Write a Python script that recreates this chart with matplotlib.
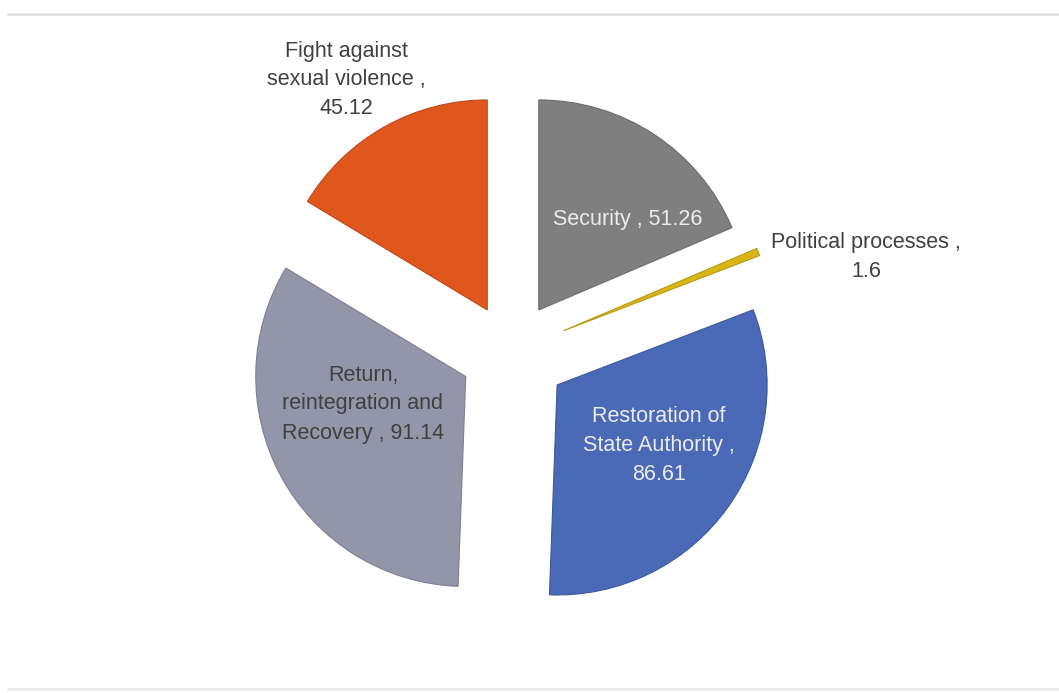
import numpy as np
import matplotlib.pyplot as plt
from matplotlib.lines import Line2D

plt.rcParams['font.family'] = ['Liberation Sans', 'DejaVu Sans']

# Budget by area
labels = ['Security', 'Political processes', 'Restoration of\nState Authority',
          'Return,\nreintegration and\nRecovery', 'Fight against\nsexual violence']
values = [51.26, 1.6, 86.61, 91.14, 45.12]
colors = ['#7f7f7f', '#d9b616', '#4a69b6', '#9396a9', '#df571d']
explode = [0.24, 0.27, 0.27, 0.245, 0.23]

W, H = 1059, 693
R = 210.0  # pie radius in pixels
cx, cy = 511, 352  # pie centre in pixels (from top-left)

fig = plt.figure(figsize=(W / 100, H / 100), dpi=100)
ax = fig.add_axes([0, 0, 1, 1])

wedges, _ = ax.pie(values, colors=colors, explode=explode, startangle=90,
                   counterclock=False, radius=1.0, center=(0, 0),
                   wedgeprops=dict(linewidth=0.8))
for w, c in zip(wedges, colors):
    r, g, b = plt.matplotlib.colors.to_rgb(c)
    w.set_edgecolor((r * 0.85, g * 0.85, b * 0.85))

# pie() resets the limits, so set them afterwards
ax.set_xlim(-cx / R, (W - cx) / R)
ax.set_ylim(-(H - cy) / R, cy / R)
ax.set_aspect('equal')
ax.axis('off')


def px(x, y):
    return (x - cx) / R, (cy - y) / R


txt = dict(fontsize=15.5, ha='center', va='center', linespacing=1.5)
dark = '#404040'
light = '#ececec'

ax.text(*px(628, 220), f'{labels[0]} , {values[0]}', color=light, **txt)
ax.text(*px(866, 257), f'{labels[1]} ,\n{values[1]}', color=dark, **txt)
ax.text(*px(659, 445), f'{labels[2]} ,\n{values[2]}', color=light, **txt)
ax.text(*px(363, 404), f'{labels[3]} , {values[3]}', color=dark, **txt)
ax.text(*px(346, 80), f'{labels[4]} ,\n{values[4]}', color=dark, **txt)

# thin frame lines at top and bottom
fig.add_artist(Line2D([8 / W, 1], [1 - 14 / H, 1 - 14 / H], color='#e4e4e4', lw=2))
fig.add_artist(Line2D([8 / W, 1], [1 - 689 / H, 1 - 689 / H], color='#ececec', lw=2))

fig.savefig('out.png', dpi=100, facecolor='white')
